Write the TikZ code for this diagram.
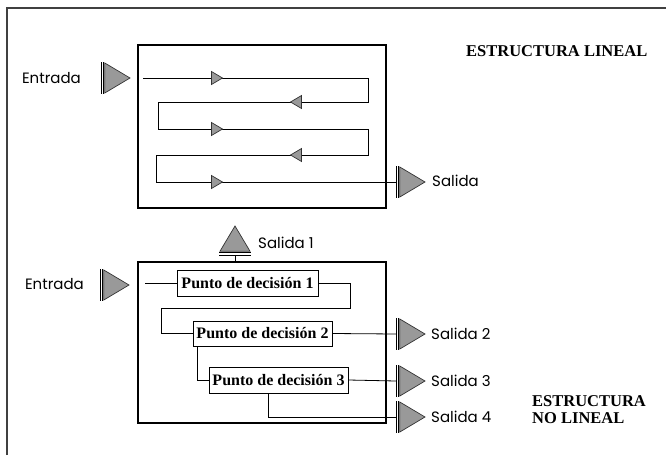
\documentclass[tikz,border=0pt]{standalone}
\usepackage{fontspec}
\setmainfont{Liberation Serif}
\newfontfamily\rotulofont{Poppins}
\usetikzlibrary{positioning}

\tikzset{
  marco/.style={line width=1.8pt},
  linea/.style={line width=0.8pt},
  caja/.style={draw, line width=0.8pt, inner sep=0pt, minimum width=139pt, minimum height=25pt,
    font=\bfseries\fontsize{16}{17}\selectfont},
  rotulo/.style={font=\rotulofont\fontsize{15}{17}\selectfont, inner sep=0pt},
  titulo/.style={font=\bfseries\fontsize{16.5}{17}\selectfont, inner sep=0pt, align=left},
  gris/.style={draw=black!80, fill=black!40, line width=0.7pt},
  puerta/.pic={
    \draw[line width=0.9pt] (0,-16) -- (0,16) (2.8,-16) -- (2.8,16);
    \draw[gris] (3.8,-15) -- (29,0) -- (3.8,15) -- cycle;
    \coordinate (-in) at (0,0);
  },
  flecha/.pic={
    \draw[gris] (-5.5,-6.5) -- (5.5,0) -- (-5.5,6.5) -- cycle;
  }
}

\begin{document}
\begin{tikzpicture}[x=1pt, y=-1pt]
  \useasboundingbox (0,0) rectangle (666,455);
  % marco exterior
  \draw[line width=1.3pt, black!75] (7,455) -- (7,8) -- (666,8);

  % estructura lineal
  \draw[marco] (138,45) rectangle (386,208);
  \pic (e1) at (101,78) {puerta};
  \node[rotulo, anchor=east] (ent1) at (81,78) {Entrada};
  \pic (s0) at (396,182) {puerta};
  \node[rotulo, anchor=west] (sal0) at (432,181) {Salida};
  \node[titulo, anchor=west] (tit1) at (466,51) {ESTRUCTURA LINEAL};

  \coordinate (a0) at (143,78);
  \coordinate (a1) at (368,78);
  \coordinate (a2) at (368,102);
  \coordinate (a3) at (158,102);
  \coordinate (a4) at (158,129);
  \coordinate (a5) at (368,129);
  \coordinate (a6) at (368,155);
  \coordinate (a7) at (156,155);
  \coordinate (a8) at (156,182);
  \draw[linea] (a0) -- (a1) -- (a2) -- (a3) -- (a4) -- (a5) -- (a6) -- (a7) -- (a8) -- (s0-in);
  \foreach \y in {78,129,182}
    \pic at (217,\y) {flecha};
  \foreach \y in {102,155}
    \pic[rotate=180] at (296,\y) {flecha};

  % estructura no lineal
  \draw[marco] (138,262) rectangle (386,423);
  \pic (e2) at (100,285) {puerta};
  \node[rotulo, anchor=east] (ent2) at (84,284) {Entrada};
  \pic[rotate=90] (s1) at (235,255) {puerta};
  \coordinate (b0) at (235,262);
  \draw[linea] (b0) -- (s1-in);
  \node[rotulo, anchor=west] (sal1) at (258,243) {Salida 1};

  \node[caja, minimum width=141pt, minimum height=26pt] (d1) at (247.5,283) {Punto de decisión 1};
  \node[caja] (d2) at (262.5,333.5) {Punto de decisión 2};
  \node[caja, minimum height=26pt] (d3) at (278.5,380) {Punto de decisión 3};

  \pic (s2) at (396,334) {puerta};
  \pic (s3) at (396,381) {puerta};
  \pic (s4) at (396,417) {puerta};
  \node[rotulo, anchor=west] (sal2) at (431,334) {Salida 2};
  \node[rotulo, anchor=west] (sal3) at (431,381) {Salida 3};
  \node[rotulo, anchor=west] (sal4) at (431,417) {Salida 4};
  \node[titulo, anchor=west] (tit2) at (532,409.5) {ESTRUCTURA\\NO LINEAL};

  \coordinate (c0) at (145,283);
  \coordinate (c1) at (350,283);
  \coordinate (c2) at (350,308);
  \coordinate (c3) at (161,308);
  \coordinate (c4) at (161,333.5);
  \draw[linea] (c0) -- (d1.west);
  \draw[linea] (d1.east) -- (c1) -- (c2) -- (c3) -- (c4) -- (d2.west);
  \draw[linea] (d2.east) -- (s2-in);
  \draw[linea] ([xshift=5pt]d2.south west) |- (d3.west);
  \draw[linea] (d3.east) -- (s3-in);
  \draw[linea] ([xshift=-10pt]d3.south) |- (s4-in);
\end{tikzpicture}
\end{document}
